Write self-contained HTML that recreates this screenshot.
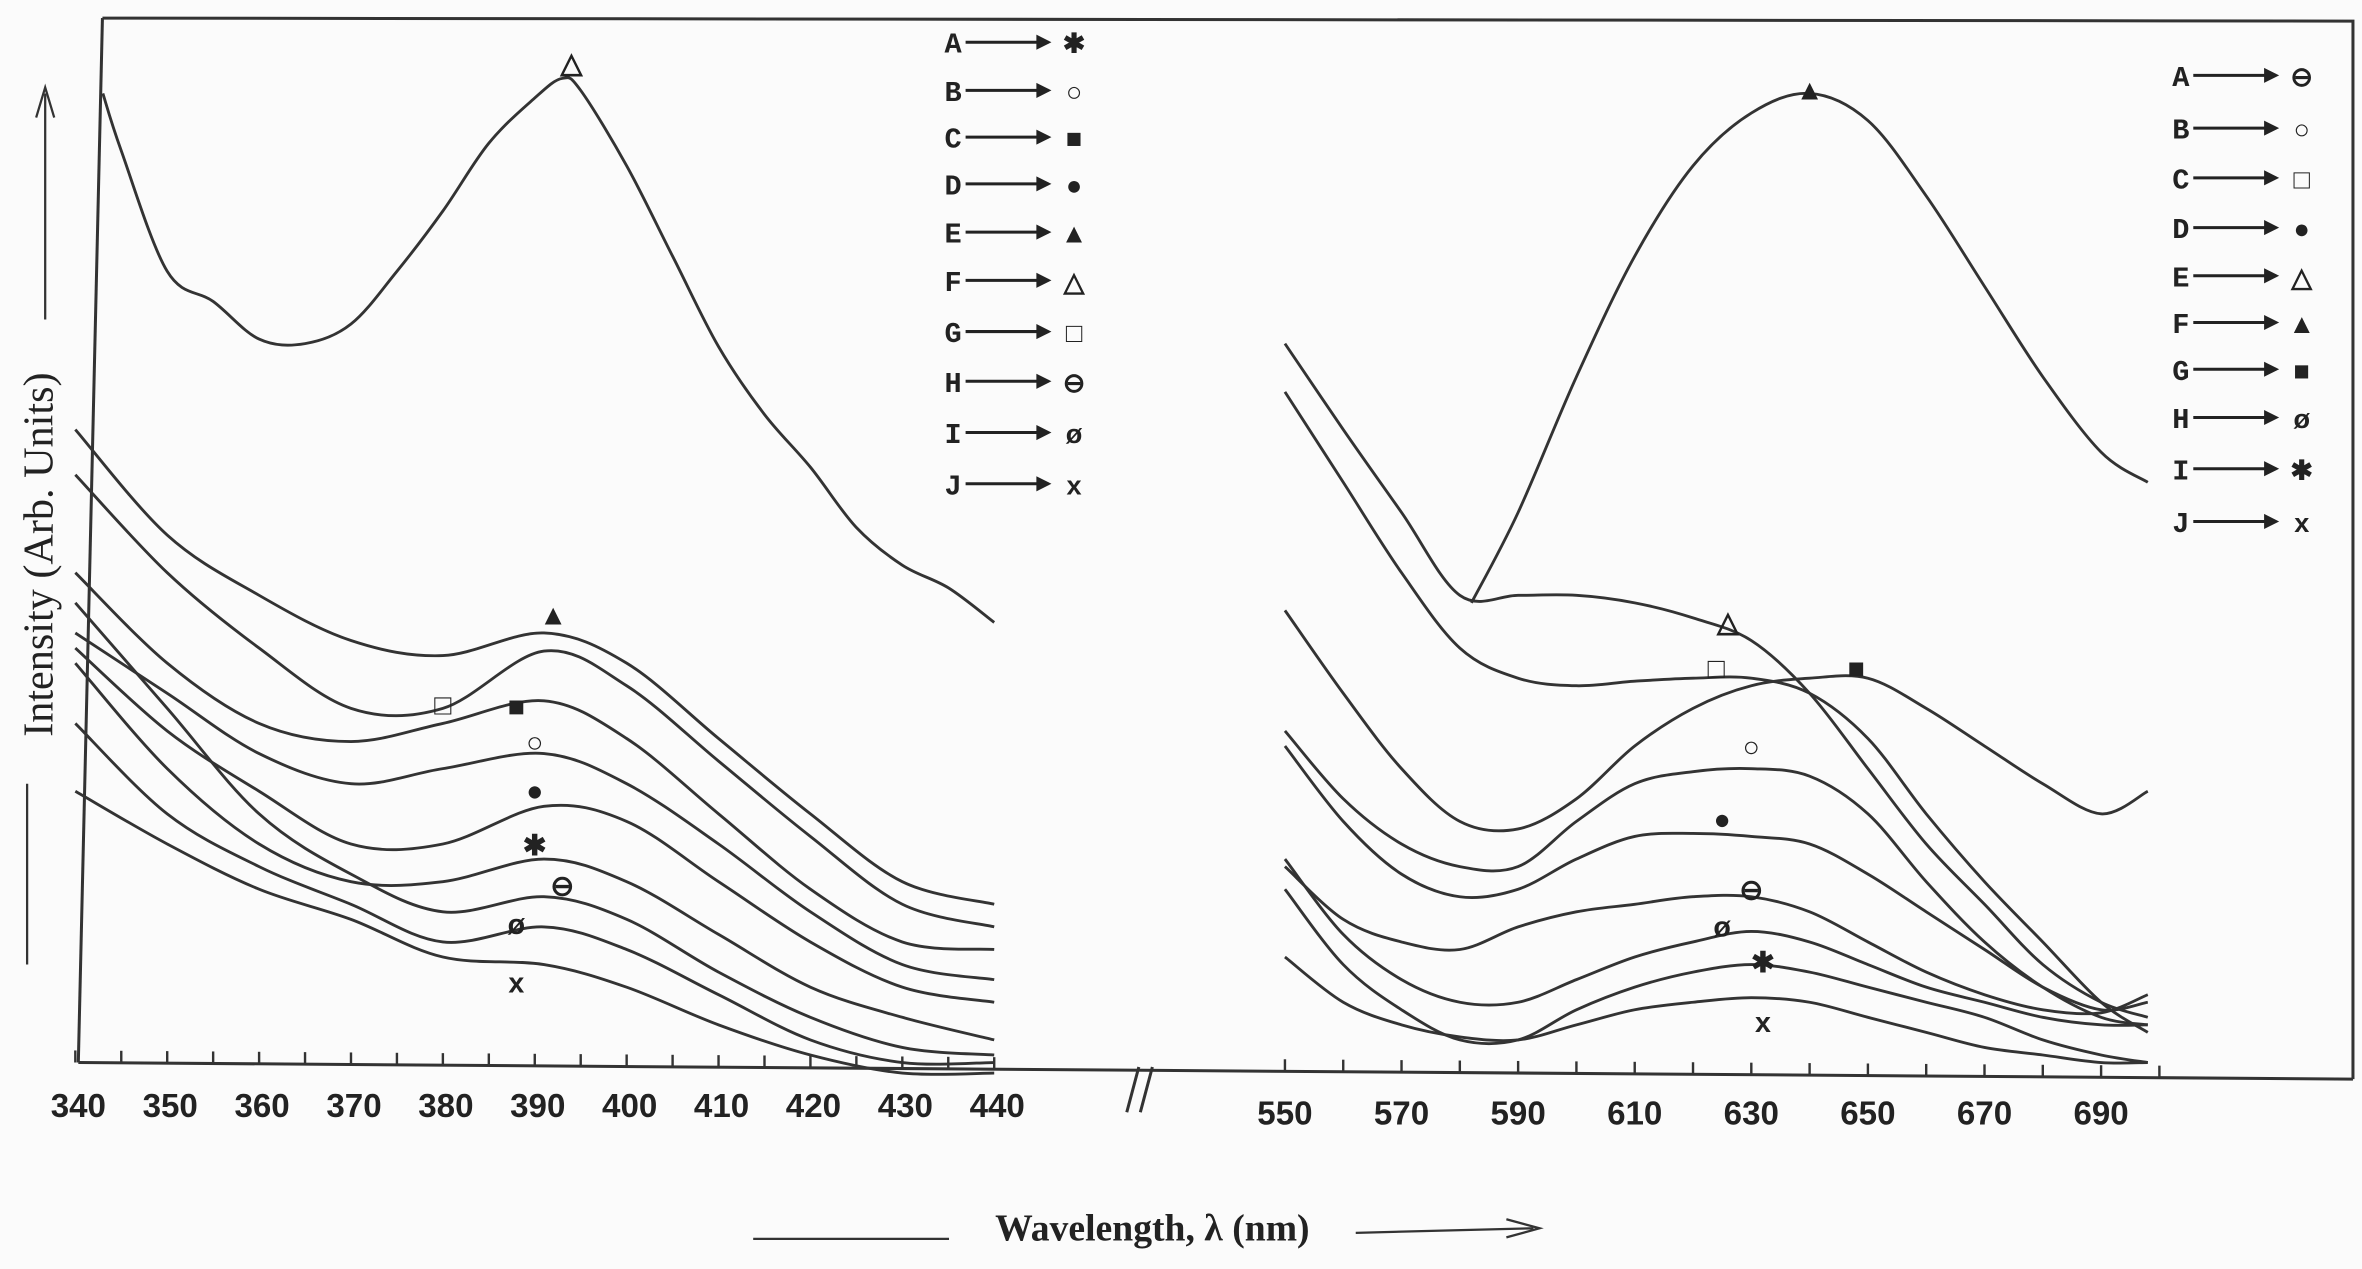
<!DOCTYPE html>
<html><head><meta charset="utf-8"><style>
html,body{margin:0;padding:0;background:#fbfbfb;}
svg{display:block;}
text{font-family:"Liberation Sans",sans-serif;fill:#222;}
.tick{font-weight:bold;font-size:22px;}
.leg{font-family:"Liberation Mono",monospace;font-weight:bold;font-size:19px;}
</style></head><body>
<svg id="chart" width="2362" height="1269" viewBox="0 0 1568 842" preserveAspectRatio="none" xmlns="http://www.w3.org/2000/svg">
<g id="frame" stroke="#333" stroke-width="2" fill="none">
<path d="M68 12 L1562 14 L1562 716"/>
<path d="M68 12 L52 705"/>
<path d="M52 705 L1562 716"/>
</g>
<g id="ticks"></g>
<g id="curves" stroke="#333" stroke-width="1.9" fill="none" stroke-linejoin="round"></g>
<g id="markers"></g>
<g stroke="#333" stroke-width="2"><line x1="748" y1="738" x2="756" y2="708"/><line x1="757" y1="738" x2="765" y2="708"/></g>
<g id="legendL"></g>
<g id="legendR"></g>
<g>
<line x1="18" y1="640" x2="18" y2="520" stroke="#333" stroke-width="1.5"/>
<line x1="30" y1="212" x2="30" y2="62" stroke="#333" stroke-width="1.5"/>
<path d="M24 78 L30 58 L36 78" fill="none" stroke="#333" stroke-width="1.5"/>
<text transform="translate(35,368) rotate(-90)" text-anchor="middle" font-size="28" style="font-family:'Liberation Serif',serif">Intensity (Arb. Units)</text>
</g>
<g>
<line x1="500" y1="822" x2="630" y2="822" stroke="#333" stroke-width="1.5"/>
<line x1="900" y1="818" x2="1018" y2="815" stroke="#333" stroke-width="1.5"/>
<path d="M1000 809 L1022 815 L1000 821" fill="none" stroke="#333" stroke-width="1.5"/>
<text x="765" y="823" text-anchor="middle" font-size="25" style="font-family:'Liberation Serif',serif;font-weight:bold">Wavelength, λ (nm)</text>
</g>
</svg>
<script>
// ---- data ----
const leftTickLabels=[340,350,360,370,380,390,400,410,420,430,440];
const rightTickLabels=[550,570,590,610,630,650,670,690];
const lamF=[343,345,350,355,360,365,370,375,380,385,390,393,395,400,405,410,415,420,425,430,435,440];
const valF=[643,605,525,505,480,477,490,525,565,610,640,653,645,595,535,475,430,395,355,330,315,292];
const lamL=[340,350,360,370,380,391,400,410,420,430,440];
const valLE=[420,350,310,280,270,285,265,215,165,120,105];
const valLG=[390,325,275,235,235,273,250,200,150,105,90];
const valLC=[325,265,225,213,225,240,215,165,115,80,75];
const valLB=[285,245,205,185,195,205,185,145,100,65,55];
const valLD=[275,220,180,145,145,170,160,120,80,50,40];
const valLA=[265,195,145,120,120,135,120,85,50,30,15];
const valLH=[305,235,165,125,100,110,95,60,30,10,5];
const valLI=[225,165,130,105,80,90,75,45,15,0,0];
const valLJ=[180,145,115,95,70,65,50,25,5,-7,-7];
const lamRF=[582,590,600,610,620,630,640,650,660,670,680,690,698];
const valRF=[305,365,455,535,595,630,643,625,575,515,455,405,385];
const lamR=[550,560,570,580,590,600,610,620,630,640,650,660,670,680,690,698];
const valRE=[477,420,365,310,310,310,305,295,280,245,195,145,105,65,40,30];
const valRC=[445,385,325,275,255,250,253,255,255,245,215,165,120,80,40,20];
const valRG=[300,245,195,160,155,175,210,235,250,255,255,235,210,185,165,180];
const valRB=[220,175,145,130,130,160,185,193,195,190,165,120,80,50,30,25];
const valRD=[210,160,125,110,115,135,150,152,150,145,125,100,75,50,35,40];
const valRA=[130,95,80,75,90,100,105,110,110,100,80,60,45,35,33,45];
const valRH=[135,85,55,40,40,55,70,80,87,80,65,50,40,30,25,25];
const valRI=[115,65,35,15,15,35,50,60,65,60,50,40,30,15,5,0];
const valRJ=[70,40,25,17,15,25,35,40,43,40,30,20,10,5,0,0];
const legendLetters=["A","B","C","D","E","F","G","H","I","J"];
const legendLeftSymbols=["✱","○","■","●","▲","△","□","⊖","ø","x"];
const legendRightSymbols=["⊖","○","□","●","△","▲","■","ø","✱","x"];
// ---- scales ----
const xL=l=>50+(l-340)*6.1;
const xR=l=>853+(l-550)*3.87;
const yS=v=>705-v;
const NS="http://www.w3.org/2000/svg";
function mk(tag,attrs,parent){const e=document.createElementNS(NS,tag);for(const k in attrs)e.setAttribute(k,attrs[k]);parent.appendChild(e);return e;}
const curves=document.getElementById('curves');
function interp(lams,vals,l){for(let i=0;i<lams.length-1;i++){if(l>=lams[i]&&l<=lams[i+1]){const t=(l-lams[i])/(lams[i+1]-lams[i]);return vals[i]+t*(vals[i+1]-vals[i]);}}return vals[vals.length-1];}
function smoothPath(P){let d=`M${P[0][0].toFixed(1)} ${P[0][1].toFixed(1)}`;
 for(let i=0;i<P.length-1;i++){const p0=P[Math.max(i-1,0)],p1=P[i],p2=P[i+1],p3=P[Math.min(i+2,P.length-1)];
  const c1=[p1[0]+(p2[0]-p0[0])/6,p1[1]+(p2[1]-p0[1])/6],c2=[p2[0]-(p3[0]-p1[0])/6,p2[1]-(p3[1]-p1[1])/6];
  d+=` C${c1[0].toFixed(1)} ${c1[1].toFixed(1)} ${c2[0].toFixed(1)} ${c2[1].toFixed(1)} ${p2[0].toFixed(1)} ${p2[1].toFixed(1)}`;}
 return d;}
const series=[
 ["left-F",lamF,valF,xL,"△",394,14],["left-E",lamL,valLE,xL,"▲",392,14],["left-G",lamL,valLG,xL,"□",380,2],
 ["left-C",lamL,valLC,xL,"■",388,0],["left-B",lamL,valLB,xL,"○",390,8],["left-D",lamL,valLD,xL,"●",390,12],
 ["left-A",lamL,valLA,xL,"✱",390,10],["left-H",lamL,valLH,xL,"⊖",393,10],["left-I",lamL,valLI,xL,"ø",388,4],
 ["left-J",lamL,valLJ,xL,"x",388,-14],
 ["right-F",lamRF,valRF,xR,"▲",640,2],["right-E",lamR,valRE,xR,"△",626,6],["right-C",lamR,valRC,xR,"□",624,6],
 ["right-G",lamR,valRG,xR,"■",648,6],["right-B",lamR,valRB,xR,"○",630,14],["right-D",lamR,valRD,xR,"●",625,10],
 ["right-A",lamR,valRA,xR,"⊖",630,4],["right-H",lamR,valRH,xR,"ø",625,6],["right-I",lamR,valRI,xR,"✱",632,2],
 ["right-J",lamR,valRJ,xR,"x",632,-16]];
const mg=document.getElementById('markers');
series.forEach(s=>{
 const [name,lams,vals,xs,sym,ml,off]=s;
 const P=lams.map((l,i)=>[xs(l),yS(vals[i])]);
 const p=mk('path',{d:smoothPath(P)},curves);
 
 
 const t=mk('text',{x:xs(ml),y:yS(interp(lams,vals,ml)+off)+6,'text-anchor':'middle','font-size':19,'font-weight':'bold'},mg);
 t.textContent=sym;
 
 
});
// ticks
const tg=document.getElementById('ticks');
for(let l=340;l<=440;l+=5){const x=xL(l);const y0=705+(x-52)*11/1510;
 const tk=mk('line',{x1:x,y1:y0,x2:x,y2:y0-8,stroke:'#333','stroke-width':1.6},tg);
 
 }
for(let l=550;l<=700;l+=10){const x=xR(l);const y0=705+(x-52)*11/1510;
 const tk=mk('line',{x1:x,y1:y0,x2:x,y2:y0-8,stroke:'#333','stroke-width':1.6},tg);
 
 }
leftTickLabels.forEach(l=>{const t=mk('text',{x:xL(l)+2,y:741,'text-anchor':'middle',class:'tick'},tg);t.textContent=l;
 
 });
rightTickLabels.forEach(l=>{const t=mk('text',{x:xR(l),y:746,'text-anchor':'middle',class:'tick'},tg);t.textContent=l;
 
 });
// legends
function legend(gid,x0,ys,syms,len){const g=document.getElementById(gid);
 legendLetters.forEach((L,i)=>{const y=ys[i];
  const e=mk('g',{},g);
  
  
  const a=mk('text',{x:x0,y:y+7,class:'leg'},e);a.textContent=L;
  mk('line',{x1:x0+14,y1:y,x2:x0+14+len,y2:y,stroke:'#222','stroke-width':2},e);
  mk('path',{d:`M${x0+6+len} ${y-5} L${x0+16+len} ${y} L${x0+6+len} ${y+5}Z`,fill:'#222'},e);
  const s=mk('text',{x:x0+len+31,y:y+7,'text-anchor':'middle','font-size':18,'font-weight':'bold'},e);s.textContent=syms[i];});}
legend('legendL',627,[28,60,91,122,154,186,220,253,287,321],legendLeftSymbols,55);
legend('legendR',1442,[50,85,118,151,183,214,245,277,311,346],legendRightSymbols,55);
</script>
</body></html>
